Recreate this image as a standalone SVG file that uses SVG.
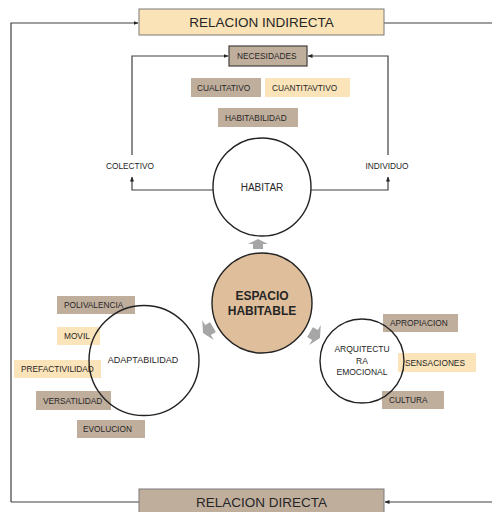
<svg xmlns="http://www.w3.org/2000/svg" width="492" height="512" viewBox="0 0 492 512">
<style>
text{font-family:"Liberation Sans",Arial,sans-serif;fill:#262626}
.lbl{font-size:8.3px;dominant-baseline:central}
.tan{fill:#C0AE9D}
.cream{fill:#FBE4B9}
.ln{fill:none;stroke:#404040;stroke-width:1.2}
.circ{fill:none;stroke:#222;stroke-width:1.4}
.garrow{fill:#A6A6A6}
</style>
<defs>
<marker id="ah" viewBox="0 0 10 10" refX="9" refY="5" markerWidth="5" markerHeight="5" orient="auto" markerUnits="userSpaceOnUse">
<path d="M0,1 L10,5 L0,9 z" fill="#262626"/>
</marker>
<polygon id="blk" points="0,-5 10,0 5,0 5,5 -5,5 -5,0 -10,0"/>
</defs>

<g id="connectors">
<polyline class="ln" points="11,502 11,23 138,23" marker-end="url(#ah)"/>
<line class="ln" x1="11" y1="502" x2="139" y2="502"/>
<line class="ln" x1="384" y1="23" x2="492" y2="23"/>
<line class="ln" x1="492" y1="502" x2="385" y2="502" marker-end="url(#ah)"/>
<polyline class="ln" points="132,155 132,56 228,56" marker-end="url(#ah)"/>
<polyline class="ln" points="388,155 388,56 308,56" marker-end="url(#ah)"/>
<polyline class="ln" points="213,190 132,190 132,177" marker-end="url(#ah)"/>
<polyline class="ln" points="311,190 388,190 388,177" marker-end="url(#ah)"/>
<use href="#blk" class="garrow" transform="translate(258,244)"/>
<use href="#blk" class="garrow" transform="translate(208,330) rotate(-120) scale(1.15)"/>
<use href="#blk" class="garrow" transform="translate(315,335) rotate(120) scale(1.15)"/>
</g>

<g id="relacion-indirecta">
<rect x="139" y="9" width="245" height="26" fill="#FAE3B6" stroke="#7A7A7A" stroke-width="1"/>
<text x="261.5" y="22" font-size="13.5" text-anchor="middle" dominant-baseline="central">RELACION INDIRECTA</text>
</g>
<g id="relacion-directa">
<rect x="139" y="489" width="245" height="30" fill="#C0AE9D" stroke="#7A7A7A" stroke-width="1"/>
<text x="261.5" y="502" font-size="13.5" text-anchor="middle" dominant-baseline="central">RELACION DIRECTA</text>
</g>
<g id="necesidades">
<rect x="229" y="46" width="78" height="20" fill="#C0AE9D" stroke="#404040" stroke-width="1.2"/>
<text class="lbl" x="237" y="56">NECESIDADES</text>
</g>
<g id="cualitativo">
<rect class="tan" x="191" y="78" width="70" height="19"/>
<text class="lbl" x="197" y="87.5">CUALITATIVO</text>
</g>
<g id="cuantitativo">
<rect class="cream" x="265" y="78" width="85" height="19"/>
<text class="lbl" x="272" y="87.5">CUANTITAVTIVO</text>
</g>
<g id="habitabilidad">
<rect class="tan" x="218" y="108" width="80" height="19"/>
<text class="lbl" x="225" y="117.5">HABITABILIDAD</text>
</g>
<g id="colectivo">
<text class="lbl" x="130" y="166" text-anchor="middle">COLECTIVO</text>
</g>
<g id="individuo">
<text class="lbl" x="387" y="166" text-anchor="middle">INDIVIDUO</text>
</g>
<g id="habitar">
<circle cx="262" cy="187" r="49" fill="#fff" stroke="#222" stroke-width="1.4"/>
<text x="262" y="187" font-size="10" text-anchor="middle" dominant-baseline="central">HABITAR</text>
</g>
<g id="espacio-habitable">
<circle cx="262" cy="303" r="50" fill="#DFBE9B" stroke="#222" stroke-width="1.4"/>
<text x="262" y="296" font-size="12" font-weight="bold" text-anchor="middle" dominant-baseline="central">ESPACIO</text>
<text x="262" y="311" font-size="12" font-weight="bold" text-anchor="middle" dominant-baseline="central">HABITABLE</text>
</g>
<g id="adaptabilidad">
<rect class="tan" x="57" y="296" width="78" height="18"/>
<text class="lbl" x="64" y="305">POLIVALENCIA</text>
<rect class="cream" x="57" y="327" width="43" height="18"/>
<text class="lbl" x="64" y="336">MOVIL</text>
<rect class="cream" x="14" y="360" width="87" height="18"/>
<text class="lbl" x="21" y="369">PREFACTIVILIDAD</text>
<rect class="tan" x="36" y="391" width="75" height="19"/>
<text class="lbl" x="43" y="400.5">VERSATILIDAD</text>
<rect class="tan" x="77" y="420" width="68" height="18"/>
<text class="lbl" x="83" y="429">EVOLUCION</text>
<circle class="circ" cx="144" cy="360.5" r="55"/>
<text x="143" y="360" font-size="9" text-anchor="middle" dominant-baseline="central">ADAPTABILIDAD</text>
</g>
<g id="arquitectura-emocional">
<rect class="tan" x="383" y="314" width="75" height="18"/>
<text class="lbl" x="390" y="323">APROPIACION</text>
<rect class="cream" x="398" y="353" width="78" height="19"/>
<text class="lbl" x="405" y="362.5">SENSACIONES</text>
<rect class="tan" x="382" y="391" width="62" height="18"/>
<text class="lbl" x="389" y="400">CULTURA</text>
<circle class="circ" cx="362" cy="361" r="42"/>
<text x="362" y="349" font-size="8.5" text-anchor="middle" dominant-baseline="central">ARQUITECTU</text>
<text x="362" y="360.5" font-size="8.5" text-anchor="middle" dominant-baseline="central">RA</text>
<text x="362" y="372" font-size="8.5" text-anchor="middle" dominant-baseline="central">EMOCIONAL</text>
</g>
</svg>
